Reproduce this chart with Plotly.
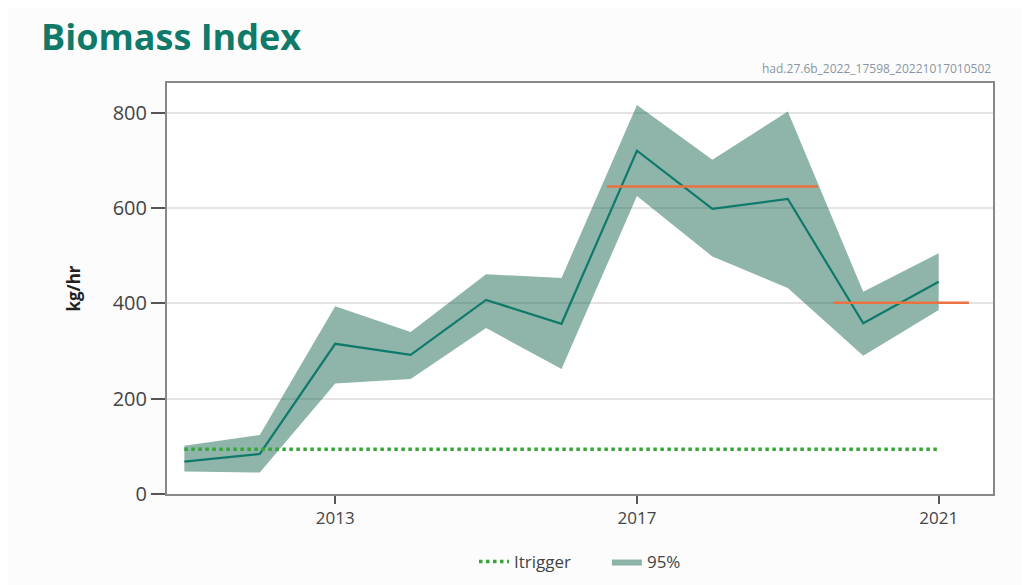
import plotly.graph_objects as go

years = [2011, 2012, 2013, 2014, 2015, 2016, 2017, 2018, 2019, 2020, 2021]
index_vals = [68, 84, 315, 292, 407, 357, 720, 598, 619, 358, 445]
upper_95 = [101, 124, 394, 340, 461, 453, 816, 701, 802, 424, 505]
lower_95 = [47, 45, 232, 241, 348, 262, 625, 498, 432, 290, 386]
itrigger_value = 94
advice_start = [2016.6, 2019.6]
advice_end = [2019.4, 2021.4]
advice_value = [645, 401]
x_ticks = [2013, 2017, 2021]
y_ticks = [0, 200, 400, 600, 800]

TEAL = "#0f7a69"
BAND = "rgba(17,98,76,0.47)"
ORANGE = "#ea7240"
GREEN = "#37a537"

W, H = 1022, 577
ML, MR, MT, MB = 159, 37, 75, 91
PW, PH = W - ML - MR, H - MT - MB

fig = go.Figure()

fig.add_trace(go.Scatter(x=years, y=upper_95, mode="lines", line=dict(width=0, color=BAND),
                         showlegend=False, hoverinfo="skip"))
fig.add_trace(go.Scatter(x=years, y=lower_95, mode="lines", line=dict(width=0, color=BAND),
                         fill="tonexty", fillcolor=BAND, name="95%", legendrank=2))
fig.add_trace(go.Scatter(x=years, y=index_vals, mode="lines", line=dict(color=TEAL, width=2.2),
                         showlegend=False))
for s, e, v in zip(advice_start, advice_end, advice_value):
    fig.add_trace(go.Scatter(x=[s, e], y=[v, v], mode="lines", line=dict(color=ORANGE, width=2.5),
                             showlegend=False))
fig.add_trace(go.Scatter(x=[years[0], years[-1]], y=[itrigger_value, itrigger_value], mode="lines",
                         line=dict(color=GREEN, width=3.5, dash="dot"), name="Itrigger       ",
                         legendrank=1))

fig.update_layout(
    width=W, height=H,
    margin=dict(l=ML, r=MR, t=MT, b=MB, autoexpand=False),
    paper_bgcolor="#fcfcfc", plot_bgcolor="white",
    font=dict(family="Open Sans", color="#444"),
    showlegend=True,
    legend=dict(orientation="h", x=0.5, xanchor="center", y=-68 / PH, yanchor="middle",
                font=dict(size=17, color="#444"), bgcolor="rgba(0,0,0,0)", traceorder="normal",
                itemwidth=30),
    annotations=[
        dict(text="<b>Biomass Index</b>", x=-(ML - 31) / PW, y=1 + (MT - 28) / PH,
             xref="paper", yref="paper", showarrow=False,
             font=dict(size=36, color=TEAL, family="Open Sans"), xanchor="left", yanchor="middle"),
        dict(text="had.27.6b_2022_17598_20221017010502", x=1, y=1 + 4 / PH, xref="paper", yref="paper",
             showarrow=False, font=dict(size=12, color="#8a95a3"), xanchor="right", yanchor="bottom"),
    ],
)

fig.update_xaxes(range=[2010.77, 2021.72], tickvals=x_ticks, ticks="outside", ticklen=8,
                 tickcolor="#555", tickwidth=2, showgrid=False, zeroline=False,
                 showline=True, linecolor="#888", linewidth=2, mirror=True,
                 tickfont=dict(size=17, color="#444"))
fig.update_yaxes(range=[0, 862], tickvals=y_ticks, ticks="outside", ticklen=14,
                 tickcolor="#555", tickwidth=2, showgrid=True, gridcolor="#e4e4e4", gridwidth=1.5,
                 zeroline=False, showline=True, linecolor="#888", linewidth=2, mirror=True,
                 tickfont=dict(size=20, color="#444"),
                 title=dict(text="<b>kg/hr</b>", font=dict(size=17, color="#222"), standoff=28))

fig.write_html("out.html")
